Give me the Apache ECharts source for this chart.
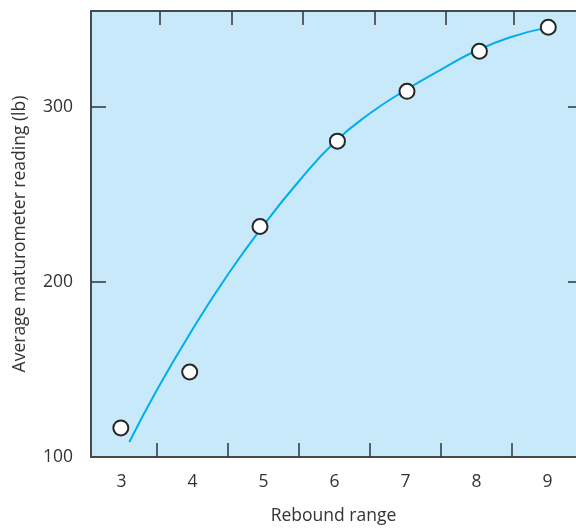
<!DOCTYPE html>
<html>
<head>
<meta charset="utf-8">
<script src="https://cdn.jsdelivr.net/npm/echarts@6/dist/echarts.min.js"></script>
<style>
html,body{margin:0;padding:0;background:#fff;}
#chart{width:576px;height:528px;}
</style>
</head>
<body>
<div id="chart"></div>
<script>
// Observed readings
var readingX = [2.99, 3.96, 4.95, 6.04, 7.02, 8.04, 9.01];
var readingY = [116.6, 148.6, 231.8, 280.6, 309.1, 332.0, 345.7];
// Fitted curve
var curveX = [3.11, 3.5, 4.0, 4.5, 5.0, 5.5, 6.0, 6.5, 7.0, 7.5, 8.0, 8.5, 8.99];
var curveY = [108.6, 138.5, 173.0, 204.5, 232.5, 257.8, 280.0, 296.5, 309.8, 321.5, 332.4, 340.3, 345.5];
// Axis tick/label values
var xLabelValues = [3, 4, 5, 6, 7, 8, 9];
var xBottomTicks = [3.5, 4.5, 5.5, 6.5, 7.5, 8.5];
var xTopTicks = [3.54, 4.55, 5.55, 6.56, 7.56, 8.52];
var yLabelValues = [100, 200, 300];
var yTickValues = [200, 300];

var pts = readingX.map(function(x, i){ return [x, readingY[i]]; });
var curve = curveX.map(function(x, i){ return [x, curveY[i]]; });

var FONT = 'Open Sans';
var FS = 17.5;
var TXT = '#333333';
var AXIS = '#4a4a4a';

var chart = echarts.init(document.getElementById('chart'), null, {renderer: 'canvas'});
chart.setOption({
  animation: false,
  backgroundColor: '#ffffff',
  grid: {left: 91, top: 11, right: 0, bottom: 71, show: true, backgroundColor: '#c7e9f9', borderWidth: 0,
         containLabel: false, outerBoundsMode: 'none'},
  xAxis: [{
    type: 'value', position: 'bottom', min: 2.57, max: 9.40,
    axisLine: {show: true, onZero: false, lineStyle: {color: AXIS, width: 2}},
    axisTick: {show: true, inside: true, length: 14, customValues: xBottomTicks, lineStyle: {color: '#333', width: 1.5}},
    axisLabel: {customValues: xLabelValues, margin: 16, fontFamily: FONT, fontSize: FS, color: TXT},
    splitLine: {show: false},
    name: 'Rebound range', nameLocation: 'middle', nameGap: 50,
    nameTextStyle: {fontFamily: FONT, fontSize: FS, color: TXT}
  }, {
    type: 'value', position: 'top', min: 2.57, max: 9.40,
    axisLine: {show: true, onZero: false, lineStyle: {color: AXIS, width: 2}},
    axisTick: {show: true, inside: true, length: 14, customValues: xTopTicks, lineStyle: {color: '#333', width: 1.5}},
    axisLabel: {show: false},
    splitLine: {show: false}
  }],
  yAxis: [{
    type: 'value', position: 'left', min: 100, max: 355,
    axisLine: {show: true, onZero: false, lineStyle: {color: AXIS, width: 2}},
    axisTick: {show: true, inside: true, length: 15, customValues: yTickValues, lineStyle: {color: '#333', width: 1.5}},
    axisLabel: {customValues: yLabelValues, margin: 18, fontFamily: FONT, fontSize: FS, color: TXT},
    splitLine: {show: false},
    name: 'Average maturometer reading (lb)', nameLocation: 'middle', nameGap: 62, nameRotate: 90,
    nameTextStyle: {fontFamily: FONT, fontSize: FS, color: TXT}
  }, {
    type: 'value', position: 'right', min: 100, max: 355,
    axisLine: {show: false},
    axisTick: {show: true, inside: true, length: 8, customValues: yTickValues, lineStyle: {color: '#333', width: 1.5}},
    axisLabel: {show: false},
    splitLine: {show: false}
  }],
  series: [{
    type: 'line', data: curve, smooth: 0.5, symbol: 'none', z: 2,
    lineStyle: {color: '#00aeef', width: 2}
  }, {
    type: 'scatter', data: pts, symbol: 'circle', symbolSize: 15, z: 3,
    itemStyle: {color: '#ffffff', borderColor: '#262626', borderWidth: 2, opacity: 1}
  }]
});
</script>
</body>
</html>
